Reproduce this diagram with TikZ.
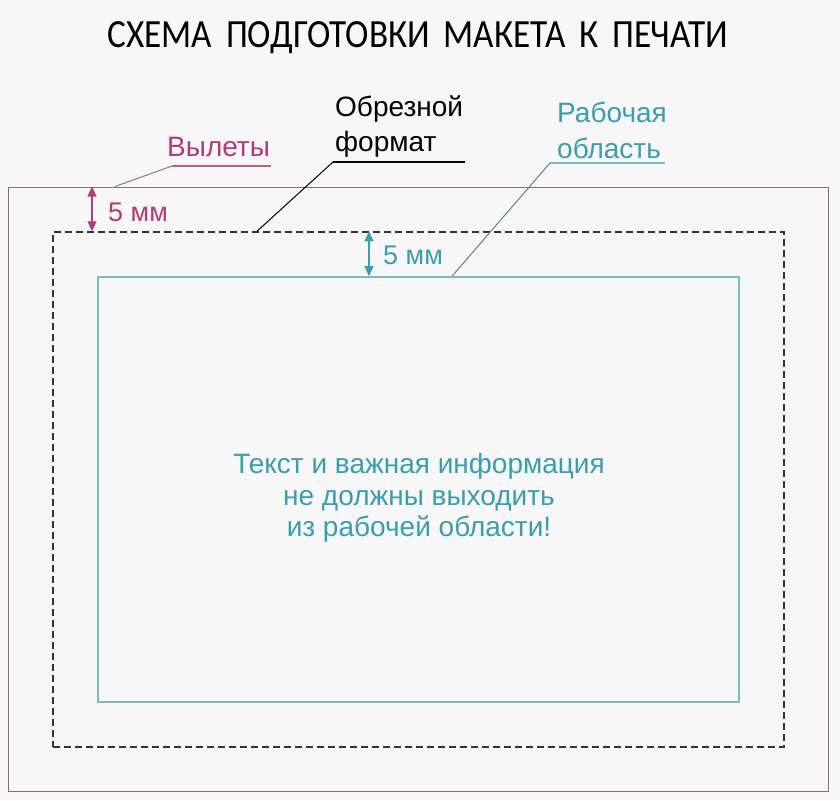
\documentclass[tikz,border=0pt]{standalone}
\usepackage{fontspec}
\setmainfont{Liberation Sans}
\newfontfamily\titlefont{Carlito}
\usetikzlibrary{arrows.meta}
\definecolor{bg}{HTML}{F7F7F7}
\definecolor{magtext}{HTML}{B03C78}
\definecolor{magline}{HTML}{C85A8C}
\definecolor{tealtext}{HTML}{3A9EAE}
\definecolor{tealline}{HTML}{7ABCC0}
\definecolor{outerline}{HTML}{8A6A7A}
\tikzset{
  frame/.style={draw, rectangle, inner sep=0pt, anchor=center},
  dimarrow/.style={line width=1.2pt, {Triangle[length=10pt,width=9pt]}-{Triangle[length=10pt,width=9pt]}},
  lbl/.style={inner sep=0pt, anchor=west, align=left},
}
\begin{document}
\begin{tikzpicture}[x=1pt,y=-1pt]
\fill[bg] (0,0) rectangle (840,800);
\useasboundingbox (0,0) rectangle (840,800);

% title
\node[inner sep=0pt] (title) at (418,38) {\scalebox{0.88}[1]{\titlefont\fontsize{40}{44}\selectfont СХЕМА\ \,ПОДГОТОВКИ\ \,МАКЕТА\ \,К\ \,ПЕЧАТИ}};

% frames
\node[frame, draw=outerline, line width=1pt, minimum width=820pt, minimum height=604pt] (outer) at (418,489) {};
\node[frame, draw=black!80, line width=1.5pt, dash pattern=on 7pt off 4pt, minimum width=731pt, minimum height=515pt] (cut) at (418.5,489.5) {};
\node[frame, draw=tealline, line width=1.6pt, minimum width=641pt, minimum height=425pt] (work) at (418.5,489.5) {};

% center text
\node[align=center, text=tealtext, font=\fontsize{28}{31.5}\selectfont] (info) at (419,498) {Текст и важная информация\\не должны выходить\\из рабочей области!};

% dimension arrows
\coordinate (ma) at (92,0);
\coordinate (ta) at (369,0);
\draw[dimarrow, draw=magtext, fill=magtext] (outer.north -| ma) -- (cut.north -| ma);
\draw[dimarrow, draw=tealtext, fill=tealtext] (cut.north -| ta) -- (work.north -| ta);
\node[lbl, text=magtext, font=\fontsize{27}{28}\selectfont] (m5) at (108,212) {5 мм};
\node[lbl, text=tealtext, font=\fontsize{27}{28}\selectfont] (t5) at (383,255) {5 мм};

% labels
\node[lbl, text=magtext, font=\fontsize{28}{30}\selectfont] (vyl) at (167,147) {Вылеты};
\node[lbl, text=black, font=\fontsize{28}{35}\selectfont] (obr) at (335,127) {Обрезной\\формат};
\node[lbl, text=tealtext, font=\fontsize{28}{36}\selectfont] (rab) at (557,130) {Рабочая\\область};

% leaders
\coordinate (v1) at (172,166);
\coordinate (v2) at (271,166);
\coordinate (v0) at (115,0);
\draw[magline, line width=1.2pt] (v1) -- (v2);
\draw[gray, line width=1pt] (outer.north -| v0) -- (v1);

\coordinate (o1) at (333,162);
\coordinate (o2) at (465,162);
\coordinate (o0) at (257,0);
\draw[black, line width=1.2pt] (o1) -- (o2);
\draw[black, line width=1pt] (cut.north -| o0) -- (o1);

\coordinate (r1) at (550,163);
\coordinate (r2) at (665,163);
\coordinate (r0) at (452,0);
\draw[tealline, line width=1.2pt] (r1) -- (r2);
\draw[gray!80!teal, line width=1pt] (work.north -| r0) -- (r1);
\end{tikzpicture}
\end{document}
